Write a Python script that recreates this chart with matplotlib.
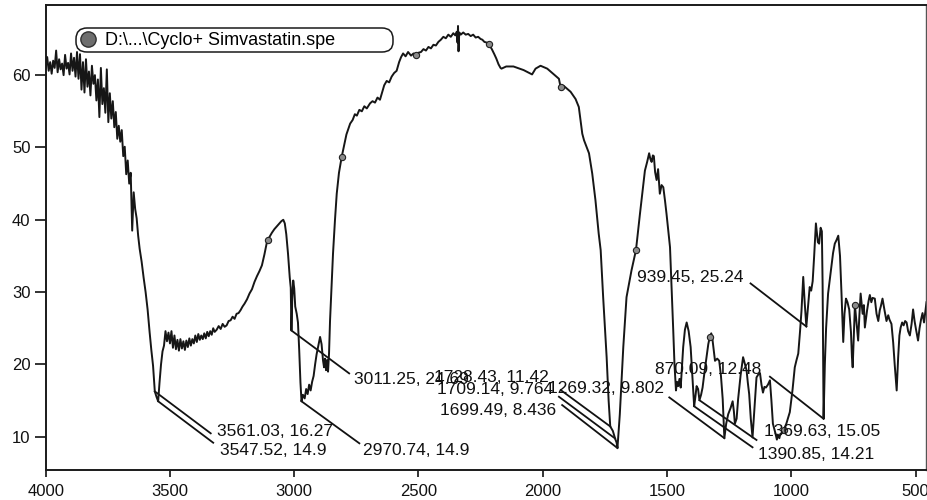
import numpy as np
import matplotlib
matplotlib.use('Agg')
import matplotlib.pyplot as plt
from matplotlib.lines import Line2D

plt.rcParams['font.family'] = ['Liberation Sans', 'DejaVu Sans']

# ---------------- data (wavenumber cm-1, %T) ----------------
wn_a = [4000, 3994, 3988, 3982, 3976, 3970, 3964, 3958, 3952, 3946, 3940, 3934, 3928, 3922, 3916,
        3910, 3904, 3898, 3892, 3886, 3880, 3874, 3868, 3862, 3856, 3850, 3844, 3838, 3832, 3826,
        3820, 3814, 3808, 3802, 3796, 3790, 3784, 3778, 3772, 3766, 3760, 3754, 3748, 3742, 3736,
        3730, 3724, 3718, 3712, 3706, 3700, 3694, 3688, 3682, 3676, 3670, 3664, 3658, 3652, 3646,
        3640, 3634, 3628, 3622, 3614, 3606, 3598, 3590, 3582, 3575, 3568, 3561.03, 3554, 3547.52]
tr_a = [61.0, 62.5, 60.6, 61.8, 60.2, 62.0, 61.0, 63.4, 60.4, 62.2, 60.8, 61.6, 60.0, 62.8, 60.9,
        61.7, 60.1, 63.0, 60.6, 62.4, 59.8, 63.2, 59.5, 62.9, 58.0, 61.8, 57.6, 62.2, 58.4, 60.5,
        57.2, 61.3, 58.8, 60.0, 56.5, 59.4, 54.2, 61.0, 56.0, 58.2, 54.8, 60.8, 53.5, 57.5, 54.0,
        56.4, 52.8, 54.9, 51.2, 53.0, 50.8, 52.4, 48.8, 50.1, 46.3, 48.2, 45.0, 46.5, 38.5, 43.8,
        41.5, 40.2, 37.8, 36.0, 34.2, 32.0, 30.0, 27.6, 24.5, 22.0, 19.8, 16.27, 15.5, 14.9]

wn_b = [3542, 3536, 3530, 3524, 3518, 3512, 3506, 3500, 3494, 3488, 3482, 3476, 3470, 3464, 3458,
        3452, 3446, 3440, 3434, 3428, 3422, 3416, 3410, 3404, 3398, 3392, 3386, 3380, 3374, 3368,
        3362, 3356, 3350, 3344, 3338, 3332, 3326, 3320, 3312, 3304, 3296, 3288, 3280, 3272, 3264,
        3256, 3248, 3240, 3232, 3224, 3216, 3208, 3200, 3190, 3180, 3170, 3160, 3150, 3140, 3130,
        3120, 3110, 3105, 3100, 3090, 3080, 3070, 3060, 3052, 3044]
tr_b = [17.5, 20.0, 21.8, 22.6, 24.6, 23.2, 24.4, 22.9, 24.6, 22.3, 24.0, 22.1, 23.4, 21.9, 23.5,
        22.2, 23.2, 22.0, 23.3, 22.4, 23.6, 22.6, 23.5, 22.9, 24.0, 23.1, 24.2, 23.4, 24.0, 23.5,
        24.3, 23.6, 24.5, 23.9, 24.6, 24.1, 25.0, 24.5, 24.8, 25.3, 24.9, 25.6, 25.2, 25.4, 26.0,
        26.1, 26.6, 26.3, 27.0, 27.1, 27.5, 28.0, 28.4, 29.0, 29.8, 30.4, 31.4, 32.2, 32.9, 33.7,
        35.2, 36.9, 37.2, 37.6, 38.2, 38.7, 39.1, 39.5, 39.8, 40.0]

wn_c = [3038, 3032, 3025, 3018, 3014, 3011.25, 3008, 3004, 3000, 2996, 2990, 2985, 2980, 2975,
        2970.74, 2965, 2958, 2952, 2946, 2940, 2934, 2928, 2922, 2916, 2910, 2902, 2896, 2890,
        2884, 2880, 2876, 2872, 2868, 2864, 2860, 2856, 2850, 2844, 2836, 2829, 2820, 2809, 2800,
        2790, 2784, 2775, 2765, 2756, 2748, 2738, 2728, 2718, 2708, 2695, 2685, 2675, 2665, 2655,
        2645, 2638, 2628, 2618, 2608, 2598, 2588, 2578, 2570, 2562, 2552, 2542, 2530, 2520, 2512,
        2500, 2490, 2480, 2470, 2460, 2450, 2440, 2430, 2420, 2410, 2400, 2390, 2380, 2370, 2360,
        2352, 2346, 2343, 2341, 2339, 2336, 2330, 2320, 2310, 2300, 2290, 2280, 2270, 2260, 2250,
        2243, 2235, 2225, 2217, 2205, 2195, 2187, 2178, 2170, 2166, 2147, 2118, 2077, 2043, 2029,
        2009, 1982, 1955, 1935, 1928, 1915, 1888, 1868, 1855, 1841, 1834, 1814, 1801, 1788, 1775,
        1767, 1757, 1743, 1735, 1728.43, 1718, 1709.14, 1703, 1699.49]
tr_c = [39.5, 38.0, 35.3, 32.0, 30.6, 24.69, 29.0, 31.6, 30.5, 28.0, 27.0, 25.8, 22.0, 17.5,
        14.9, 15.8, 15.3, 16.6, 15.9, 17.2, 16.4, 17.6, 18.4, 20.0, 21.4, 22.8, 23.8, 22.8,
        20.5, 19.6, 20.8, 19.2, 20.6, 19.0, 21.5, 26.0, 30.5, 35.3, 40.0, 43.6, 46.5, 48.7, 50.2,
        51.8, 52.4, 53.3, 53.8, 54.6, 54.4, 55.2, 55.0, 55.7, 55.4, 56.1, 56.4, 56.2, 56.9, 56.6,
        57.8, 58.6, 59.2, 59.0, 59.8, 60.3, 60.6, 61.8, 62.5, 63.0, 62.6, 63.2, 62.7, 63.0, 62.8,
        63.1, 63.2, 63.6, 63.4, 63.9, 63.7, 64.2, 64.1, 64.6, 64.9, 65.3, 65.1, 65.6, 65.3, 65.8,
        65.5, 66.0, 64.5, 66.8, 63.3, 65.9, 65.6, 65.9, 65.6, 65.7, 65.4, 65.6, 65.2, 65.3, 65.0,
        64.9, 64.6, 64.5, 64.3, 63.6, 62.9, 62.3, 61.5, 61.0, 60.9, 61.2, 61.2, 60.7, 60.1, 60.9,
        61.3, 60.9, 60.1, 59.5, 58.3, 58.5, 57.7, 56.7, 55.6, 51.9, 51.0, 49.2, 46.4, 42.7, 38.1,
        35.8, 29.3, 21.0, 15.0, 11.42, 10.8, 9.764, 9.2, 8.436]

wn_d = [1690, 1676, 1663, 1643, 1625, 1609, 1589, 1580, 1572, 1567, 1562, 1557, 1553, 1548, 1542,
        1536, 1529, 1522, 1515, 1508, 1502, 1488, 1482, 1475, 1470, 1464, 1460, 1455, 1450, 1445,
        1440, 1435, 1428, 1421, 1413, 1405, 1400, 1395, 1390.85, 1386, 1381, 1375, 1369.63, 1363,
        1357, 1349, 1341, 1334, 1328, 1322, 1317, 1312, 1307, 1298, 1290, 1283, 1276, 1269.32,
        1262, 1254, 1244, 1236, 1231, 1227, 1220, 1214, 1204, 1194, 1187, 1180, 1175, 1169.5,
        1163, 1156, 1148, 1140, 1133, 1126, 1120, 1114, 1108, 1102, 1094, 1086, 1080, 1074, 1064,
        1058, 1054, 1048, 1044, 1034, 1030, 1020, 1006, 995, 986, 979, 972, 965, 959, 952, 946,
        939.45, 934, 926, 920, 914, 908, 901, 897, 893, 888, 882, 877, 874, 870.09, 865, 860, 852,
        845, 838, 832, 825, 818, 811, 804, 798, 791, 786, 780, 774, 767, 760, 756, 753, 748, 744,
        738, 731, 726, 721, 713, 708, 704, 695, 689, 684, 678, 673, 664, 657, 650, 644, 640, 633,
        625, 617, 610, 605, 597, 590, 584, 576, 570, 565, 560, 554, 548, 542, 536, 530, 523, 516,
        510, 504, 498, 490, 484, 478, 472, 466, 460, 456]
tr_d = [13.1, 22.4, 29.3, 33.0, 35.8, 40.8, 46.8, 48.0, 49.2, 48.4, 48.0, 48.9, 48.8, 46.6, 45.5,
        47.0, 43.6, 44.8, 44.5, 42.6, 40.8, 36.2, 31.0, 24.7, 20.0, 16.4, 17.6, 17.0, 18.0, 16.8,
        19.5, 22.4, 24.8, 25.8, 24.6, 22.4, 19.5, 16.4, 14.21, 15.5, 17.0, 16.6, 15.05, 15.8,
        16.8, 19.0, 21.0, 22.8, 23.8, 24.3, 23.4, 22.0, 20.5, 20.8, 20.5, 18.4, 15.2, 9.802,
        11.8, 13.1, 14.0, 14.9, 13.5, 11.8, 12.5, 15.2, 18.5, 21.0, 20.1, 19.2, 17.5, 15.9,
        12.5, 9.9, 14.0, 18.2, 18.6, 18.8, 17.2, 16.1, 16.9, 16.8, 17.2, 17.8, 15.0, 11.8, 10.5,
        9.6, 10.3, 9.8, 10.4, 10.6, 11.0, 11.8, 13.4, 16.5, 19.6, 20.6, 21.5, 24.5, 27.4, 32.1, 28.5,
        25.24, 27.5, 30.7, 30.2, 31.5, 35.0, 39.5, 38.2, 36.9, 36.7, 38.9, 38.4, 31.0, 12.48, 20.0,
        25.0, 29.8, 31.8, 33.9, 35.4, 36.7, 37.2, 37.8, 35.0, 29.8, 23.1, 27.0, 29.1, 28.6, 27.6,
        24.5, 21.0, 19.6, 24.5, 28.2, 26.0, 23.3, 26.8, 29.8, 27.0, 28.2, 25.1, 27.5, 28.8, 29.6,
        28.6, 29.2, 29.1, 27.0, 26.0, 27.5, 28.0, 29.1, 27.5, 26.0, 26.8, 26.2, 25.6, 23.0, 20.0,
        16.4, 21.0, 24.0, 25.1, 25.8, 25.4, 26.0, 25.8, 24.6, 24.0, 25.6, 27.6, 26.0, 24.8, 23.3,
        25.0, 26.2, 27.1, 25.8, 27.5, 28.6]

# spectrum point markers (wavenumbers)
marker_wn = [3105, 2809, 2512, 2217, 1928, 1625, 1328, 1030, 744]

# peak labels: (wavenumber, %T, text)
peak_wn = [3561.03, 3547.52, 3011.25, 2970.74, 1728.43, 1709.14, 1699.49,
           1269.32, 870.09, 939.45, 1369.63, 1390.85]
peak_tr = [16.27, 14.9, 24.69, 14.9, 11.42, 9.764, 8.436,
           9.802, 12.48, 25.24, 15.05, 14.21]
peak_text = ["3561.03, 16.27", "3547.52, 14.9", "3011.25, 24.69", "2970.74, 14.9",
             "1728.43, 11.42", "1709.14, 9.764", "1699.49, 8.436", "1269.32, 9.802",
             "870.09, 12.48", "939.45, 25.24", "1369.63, 15.05", "1390.85, 14.21"]

# layout of labels: text anchor (x, y, ha) and leader line start (x, y), data coords
label_xy = [(3312, 10.74, 'left'), (3299, 8.12, 'left'), (2760, 17.91, 'left'), (2722, 8.12, 'left'),
            (2437, 18.25, 'left'), (2427, 16.5, 'left'), (2414, 13.6, 'left'), (1512, 16.69, 'right'),
            (1550, 19.29, 'left'), (1621, 32.0, 'left'), (1110, 10.69, 'left'), (1134, 7.57, 'left')]
leader_start = [(3336, 10.47), (3326, 9.17), (2779, 18.76), (2738, 9.09),
                (1928, 16.46), (1935, 15.53), (1922, 14.38), (1491, 15.44),
                (1086, 18.3), (1164, 31.2), (1140, 9.55), (1156, 8.54)]

legend_label = "D:\\...\\Cyclo+ Simvastatin.spe"

# ---------------- plot ----------------
wn = np.array(wn_a + wn_b + wn_c + wn_d)
tr = np.array(tr_a + tr_b + tr_c + tr_d)
mk_idx = [int(np.argmin(np.abs(wn - m))) for m in marker_wn]

W, H = 928, 500
fig = plt.figure(figsize=(W / 100, H / 100), dpi=100)
ax = fig.add_axes([45.7 / W, 30 / H, (926.5 - 45.7) / W, 465 / H])

line_col = '#161616'
ax.plot(wn, tr, color=line_col, lw=1.4, marker='o', markevery=mk_idx,
        ms=4.5, mfc='#8a8a8a', mec='#222222', mew=0.8, zorder=3)

for (px, py), (tx, ty, ha), (lx, ly), txt in zip(zip(peak_wn, peak_tr), label_xy, leader_start, peak_text):
    ax.plot([lx, px], [ly, py], color='#111111', lw=1.3, zorder=2)
    ax.text(tx, ty, txt, ha=ha, va='center', fontsize=12.5, color='#111111', zorder=4)

ax.set_xlim(4000, 456)
ax.set_ylim(5.4, 69.7)
ax.set_xticks([4000, 3500, 3000, 2500, 2000, 1500, 1000, 500])
ax.set_yticks([10, 20, 30, 40, 50, 60])
ax.tick_params(axis='x', direction='out', length=5, width=1.2, pad=5, labelsize=12, colors='#111111')
ax.tick_params(axis='y', direction='out', length=8, width=1.2, pad=3, labelsize=12, colors='#111111')
for side in ['left', 'bottom', 'top']:
    ax.spines[side].set_linewidth(1.4)
    ax.spines[side].set_color('#1a1a1a')
ax.spines['right'].set_linewidth(1.0)
ax.spines['right'].set_color('#555555')

handle = Line2D([], [], ls='none', marker='o', ms=11, mfc='#6e6e6e', mec='#303030', mew=1.0)
leg = ax.legend([handle], [legend_label], loc='upper left',
                bbox_to_anchor=(0.0344, 0.950, 0.360, 0.0), mode='expand',
                fontsize=13, frameon=True, fancybox=True, borderpad=0.2,
                handlelength=0.9, handletextpad=0.5, borderaxespad=0.0)
frame = leg.get_frame()
frame.set_edgecolor('#1a1a1a')
frame.set_linewidth(1.1)
frame.set_alpha(1.0)
frame.set_boxstyle('round,pad=0.0,rounding_size=0.6')

fig.savefig('out.png', dpi=100, facecolor='white')
